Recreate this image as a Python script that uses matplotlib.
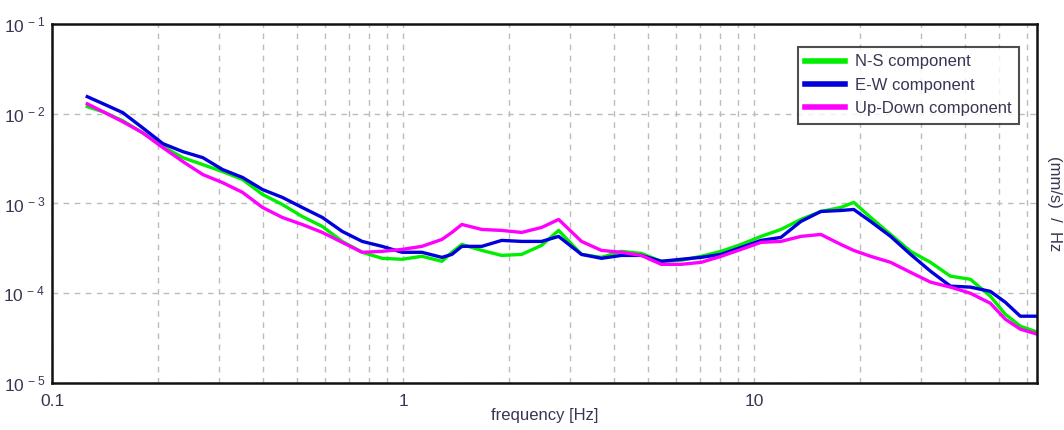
import numpy as np
import matplotlib
matplotlib.use('Agg')
import matplotlib.pyplot as plt
from matplotlib.ticker import FixedLocator, FuncFormatter, NullFormatter, LogLocator

plt.rcParams['font.family'] = ['Liberation Sans', 'DejaVu Sans']

# 频率点 (Hz)
freq = [0.126, 0.140, 0.159, 0.181, 0.207, 0.236, 0.269, 0.306, 0.349, 0.398,
        0.453, 0.516, 0.589, 0.671, 0.765, 0.872, 0.994, 1.132, 1.291, 1.378,
        1.471, 1.677, 1.911, 2.178, 2.483, 2.775, 3.225, 3.676, 4.190, 4.775,
        5.443, 6.203, 7.070, 8.059, 9.186, 10.47, 11.93, 13.60, 15.50, 17.67,
        19.24, 21.49, 24.50, 27.93, 31.83, 36.28, 41.35, 47.13, 51.99, 57.36, 64.1]

# 三个分量的谱值 (mm/s)/Hz
ns_comp = [1.20e-2, 1.05e-2, 8.36e-3, 6.15e-3, 4.30e-3, 3.24e-3, 2.71e-3, 2.27e-3, 1.85e-3, 1.26e-3,
           9.75e-4, 7.17e-4, 5.55e-4, 3.78e-4, 2.86e-4, 2.45e-4, 2.39e-4, 2.58e-4, 2.27e-4, 2.86e-4,
           3.50e-4, 3.00e-4, 2.64e-4, 2.71e-4, 3.42e-4, 5.01e-4, 2.71e-4, 2.51e-4, 2.93e-4, 2.78e-4,
           2.27e-4, 2.33e-4, 2.58e-4, 2.93e-4, 3.50e-4, 4.30e-4, 5.14e-4, 6.64e-4, 8.15e-4, 9.03e-4,
           1.03e-3, 6.99e-4, 4.52e-4, 2.93e-4, 2.21e-4, 1.55e-4, 1.43e-4, 9.27e-5, 5.84e-5, 4.30e-5, 3.69e-5]

ew_comp = [1.55e-2, 1.29e-2, 1.03e-2, 6.99e-3, 4.64e-3, 3.78e-3, 3.24e-3, 2.39e-3, 1.95e-3, 1.43e-3,
           1.17e-3, 9.03e-4, 6.99e-4, 4.89e-4, 3.78e-4, 3.33e-4, 2.86e-4, 2.86e-4, 2.51e-4, 2.71e-4,
           3.33e-4, 3.33e-4, 3.88e-4, 3.78e-4, 3.78e-4, 4.30e-4, 2.71e-4, 2.45e-4, 2.64e-4, 2.64e-4,
           2.27e-4, 2.39e-4, 2.51e-4, 2.71e-4, 3.24e-4, 3.88e-4, 4.19e-4, 6.31e-4, 8.15e-4, 8.36e-4,
           8.58e-4, 6.31e-4, 4.30e-4, 2.71e-4, 1.76e-4, 1.20e-4, 1.17e-4, 1.05e-4, 7.94e-5, 5.55e-5, 5.55e-5]

ud_comp = [1.29e-2, 1.05e-2, 8.15e-3, 6.15e-3, 4.19e-3, 2.93e-3, 2.10e-3, 1.71e-3, 1.33e-3, 9.03e-4,
           6.99e-4, 5.84e-4, 4.76e-4, 3.69e-4, 2.86e-4, 2.93e-4, 3.08e-4, 3.33e-4, 3.98e-4, 4.76e-4,
           5.84e-4, 5.14e-4, 5.01e-4, 4.76e-4, 5.41e-4, 6.64e-4, 3.78e-4, 3.00e-4, 2.86e-4, 2.64e-4,
           2.10e-4, 2.10e-4, 2.21e-4, 2.58e-4, 3.08e-4, 3.69e-4, 3.78e-4, 4.30e-4, 4.52e-4, 3.50e-4,
           3.00e-4, 2.58e-4, 2.21e-4, 1.71e-4, 1.33e-4, 1.17e-4, 1.00e-4, 7.74e-5, 5.14e-5, 3.98e-5, 3.50e-5]

series = [
    ('N-S component', ns_comp, '#00ee00'),
    ('E-W component', ew_comp, '#0000dd'),
    ('Up-Down component', ud_comp, '#ff00ff'),
]

text_color = '#3c3452'

fig = plt.figure(figsize=(10.64, 4.30), dpi=100)
ax = fig.add_axes([0.0489, 0.1093, 0.9257, 0.8349])

for name, vals, col in series:
    ax.plot(freq, vals, color=col, lw=2.4, label=name)

ax.set_xscale('log')
ax.set_yscale('log')
ax.set_xlim(0.1, 64)
ax.set_ylim(1e-5, 1e-1)

# 网格：x 方向主次都画，y 方向只画十倍线
ax.xaxis.set_major_locator(FixedLocator([0.1, 1, 10]))
ax.xaxis.set_minor_locator(LogLocator(base=10, subs=np.arange(2, 10)))
ax.xaxis.set_major_formatter(FuncFormatter(lambda v, p: '%g' % v))
ax.xaxis.set_minor_formatter(NullFormatter())
ax.yaxis.set_major_locator(FixedLocator([1e-5, 1e-4, 1e-3, 1e-2, 1e-1]))
ax.yaxis.set_minor_locator(FixedLocator([]))
ax.yaxis.set_major_formatter(FuncFormatter(
    lambda v, p: r'$\mathregular{10^{\,%d}}$' % int(round(np.log10(v)))))

ax.grid(True, which='major', axis='both', color='#bcbcbc', ls=(0, (4, 4)), lw=1)
ax.grid(True, which='minor', axis='x', color='#bcbcbc', ls=(0, (4, 4)), lw=1)
ax.tick_params(which='both', length=0, labelsize=12.5, labelcolor=text_color)
ax.tick_params(axis='x', pad=8)
ax.tick_params(axis='y', pad=5)

for s in ax.spines.values():
    s.set_linewidth(1.8)
    s.set_color('#111111')

ax.set_xlabel('frequency [Hz]', fontsize=12, color=text_color, labelpad=-1)
ax.yaxis.set_label_position('right')
ax.set_ylabel('(mm/s)  /  Hz', fontsize=12, color=text_color, rotation=270, labelpad=18)

leg = ax.legend(loc='upper right', bbox_to_anchor=(0.982, 0.936), fontsize=12,
                frameon=True, fancybox=False, handlelength=2.4, labelspacing=0.5,
                borderpad=0.45, handletextpad=0.6, borderaxespad=0)
leg.get_frame().set_edgecolor('#222222')
leg.get_frame().set_linewidth(1.5)
for t in leg.get_texts():
    t.set_color(text_color)
for h in leg.get_lines():
    h.set_linewidth(4)

fig.savefig('out.png', dpi=100)
